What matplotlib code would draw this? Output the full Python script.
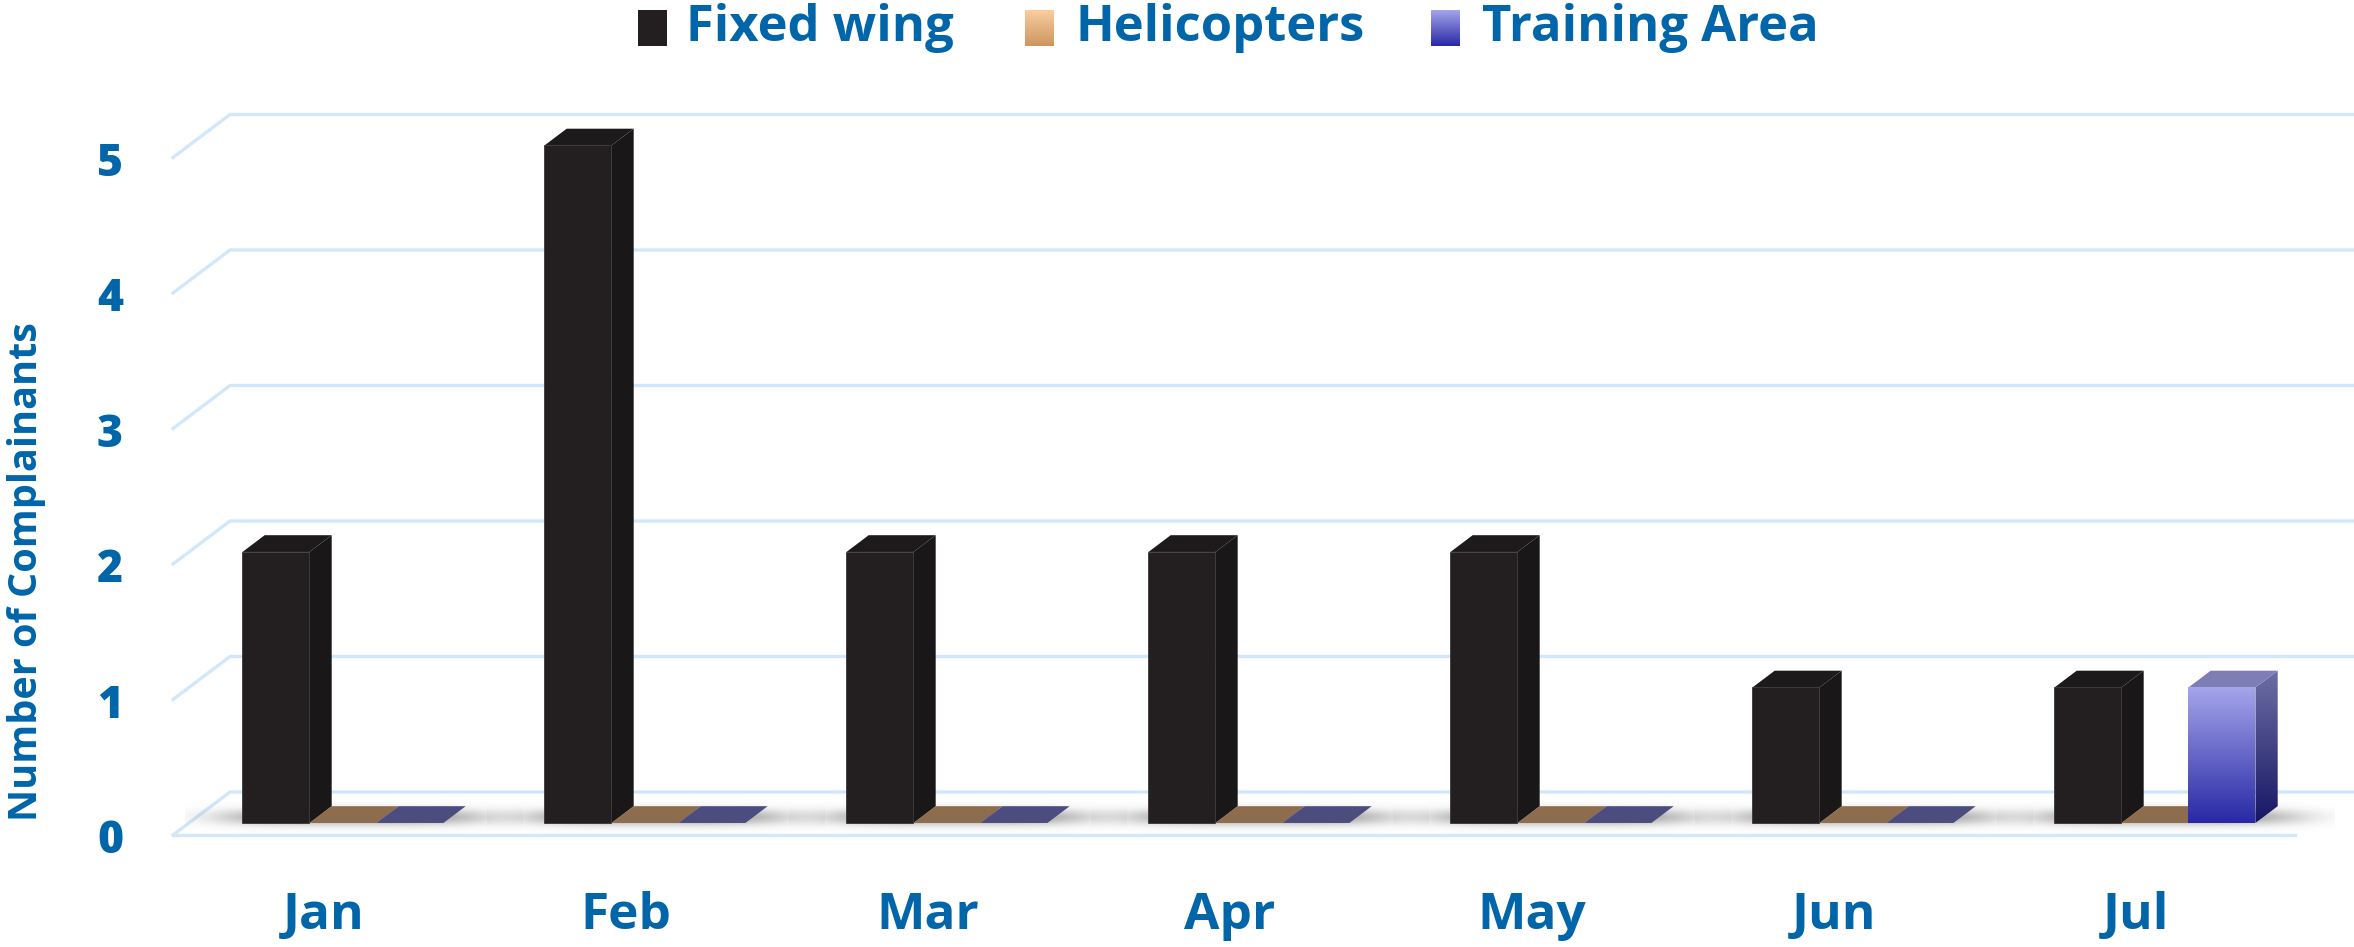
import numpy as np
import matplotlib.pyplot as plt
from matplotlib.patches import Polygon, Rectangle

months = ['Jan', 'Feb', 'Mar', 'Apr', 'May', 'Jun', 'Jul']
fixed_wing = [2, 5, 2, 2, 2, 1, 1]
helicopters = [0, 0, 0, 0, 0, 0, 0]
training_area = [0, 0, 0, 0, 0, 0, 1]
series_names = ['Fixed wing', 'Helicopters', 'Training Area']
y_ticks = [0, 1, 2, 3, 4, 5]
y_title = 'Number of Complainants'

TXT = '#0065A9'
GRID = '#D2E8FA'
FONT = 'Open Sans'

W, H = 2354, 947
fig = plt.figure(figsize=(W / 100, H / 100), dpi=100)
ax = fig.add_axes([0, 0, 1, 1])
XS, X0 = 302.0, 324.0      # px per category, px of first category
YS, Y0 = 135.5, 835.0      # px per unit, px (from top) of zero line
ax.set_xlim(-X0 / XS, (W - X0) / XS)
ax.set_ylim(-(H - Y0) / YS, Y0 / YS)
ax.axis('off')


def px(x, y):
    # pixel (from top-left) -> data coords, used for legend/text placement only
    return (x - X0) / XS, (Y0 - y) / YS


DX, DY = 57 / XS, 43 / YS   # full floor depth in data units
D0, D1 = 0.28, 0.67         # bar front / back depth
BW = 67 / XS
GX = 3 / XS                 # small nudge of bar groups to the right
floor_left = -0.5
floor_right = px(2295, 0)[0]
x_right = ax.get_xlim()[1]


def P(x, y, d):
    return (x + d * DX, y + d * DY)


def grad_poly(verts, top, bot, z):
    poly = Polygon(verts, closed=True, facecolor='none', edgecolor='none', zorder=z)
    ax.add_patch(poly)
    v = np.array(verts)
    t = np.linspace(0, 1, 128)[:, None]
    arr = (np.array(top)[None, :] * (1 - t) + np.array(bot)[None, :] * t) / 255.0
    im = ax.imshow(arr[:, None, :], extent=[v[:, 0].min(), v[:, 0].max(), v[:, 1].min(), v[:, 1].max()],
                   origin='upper', aspect='auto', interpolation='bilinear', zorder=z)
    im.set_clip_path(poly)


# grid: left wall diagonals + back wall lines
for v in y_ticks:
    ax.plot([floor_left, floor_left + DX, x_right], [v, v + DY, v + DY], color=GRID, lw=2.4, zorder=1,
            solid_joinstyle='miter')
ax.plot([floor_left, floor_right], [0, 0], color=GRID, lw=2.4, zorder=1)

# soft floor shadows under each group
for i in range(len(months)):
    xs = np.linspace(-1, 1, 300)
    ys = np.linspace(-1, 1, 80)
    gx, gy = np.meshgrid(xs, ys)
    a = 0.55 * np.exp(-(gx / 0.8) ** 4) * np.exp(-(gy / 0.45) ** 2)
    rgba = np.zeros(gx.shape + (4,))
    rgba[..., :3] = 0.32
    rgba[..., 3] = a
    left = i + GX - 1.5 * BW + D0 * DX - 0.19
    right = i + GX + 1.5 * BW + D1 * DX + 0.19
    ax.imshow(rgba, extent=[left, right, 0.0, 0.26], origin='upper',
              aspect='auto', interpolation='bilinear', zorder=2)

styles = [
    dict(front=('#231F20', '#231F20'), side=('#1A1718', '#1A1718'), top=('#1C1A1B', '#1C1A1B'),
         flat='#231F20'),
    dict(front=((250, 205, 160), (205, 150, 95)), side=((190, 150, 110), (140, 100, 60)),
         top=(175, 135, 95), flat='#8E6D4E'),
    dict(front=((165, 165, 235), (40, 40, 165)), side=((110, 110, 165), (22, 22, 100)),
         top=(126, 126, 182), flat='#4C4C7E'),
]
series = [fixed_wing, helicopters, training_area]

z = 3
for i in range(len(months)):
    for j, vals in enumerate(series):
        v = vals[i]
        st = styles[j]
        x0 = i + GX - 1.5 * BW + j * BW
        if v == 0:
            ax.add_patch(Polygon([P(x0, 0, D0), P(x0 + BW, 0, D0), P(x0 + BW, 0, D1), P(x0, 0, D1)],
                                 closed=True, facecolor=st['flat'], edgecolor='none', zorder=z))
            z += 1
            continue
        side = [P(x0 + BW, 0, D0), P(x0 + BW, v, D0), P(x0 + BW, v, D1), P(x0 + BW, 0, D1)]
        top = [P(x0, v, D0), P(x0 + BW, v, D0), P(x0 + BW, v, D1), P(x0, v, D1)]
        if j == 0:
            ax.add_patch(Polygon(side, closed=True, facecolor=st['side'][0], edgecolor='none', zorder=z))
            ax.add_patch(Polygon(top, closed=True, facecolor=st['top'][0], edgecolor='none', zorder=z))
            ax.bar(x0 + D0 * DX, v, width=BW, bottom=D0 * DY, align='edge', color=st['front'][0],
                   edgecolor='#3a3637', linewidth=0.6, zorder=z + 0.5)
        else:
            grad_poly(side, st['side'][0], st['side'][1], z)
            tc = '#%02x%02x%02x' % tuple(st['top'])
            ax.add_patch(Polygon(top, closed=True, facecolor=tc, edgecolor='none', zorder=z))
            fb = ax.bar(x0 + D0 * DX, v, width=BW, bottom=D0 * DY, align='edge', color='none',
                        edgecolor='none', zorder=z + 0.5)
            r = fb[0]
            fx, fy = r.get_x(), r.get_y()
            grad_poly([(fx, fy), (fx + BW, fy), (fx + BW, fy + v), (fx, fy + v)],
                      st['front'][0], st['front'][1], z + 0.5)
        z += 1

# axis labels
for v in y_ticks:
    ax.text(px(110, 0)[0], v - 0.05, str(v), ha='center', va='center', color=TXT,
            fontsize=32, fontweight='heavy', family=FONT)
for i, m in enumerate(months):
    ax.text(i, px(0, 916)[1], m, ha='center', va='center', color=TXT,
            fontsize=37, fontweight='bold', family=FONT)
tx, ty = px(27, 572)
ax.text(tx, ty, y_title, rotation=90, ha='center', va='center', color=TXT,
        fontsize=28.5, fontweight='bold', family=FONT)

# legend
leg_x = [(638, 686), (1025, 1076), (1431, 1482)]
for j, name in enumerate(series_names):
    sx, tx_ = leg_x[j]
    a = px(sx, 46)
    b = px(sx + 29, 10)
    st = styles[j]
    if j == 0:
        ax.add_patch(Rectangle(a, b[0] - a[0], b[1] - a[1], facecolor='#231F20', edgecolor='none', zorder=20))
    else:
        grad_poly([a, (b[0], a[1]), b, (a[0], b[1])], st['front'][0], st['front'][1], 20)
    tpos = px(tx_, 28)
    ax.text(tpos[0], tpos[1], name, ha='left', va='center', color=TXT,
            fontsize=36.5, fontweight='bold', family=FONT, zorder=20)

ax.set_xlim(-X0 / XS, (W - X0) / XS)
ax.set_ylim(-(H - Y0) / YS, Y0 / YS)
fig.savefig('out.png', dpi=100, facecolor='white')
